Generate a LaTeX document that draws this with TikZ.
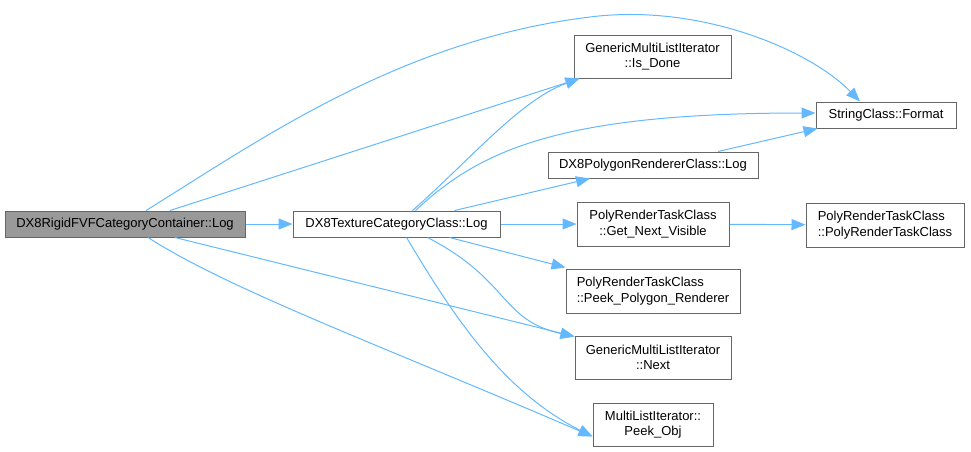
\documentclass[tikz,border=0pt]{standalone}
\usepackage{fontspec}
\setmainfont{Liberation Sans}
\usetikzlibrary{arrows.meta}
\definecolor{edgeblue}{HTML}{63B8FF}
\definecolor{frame}{HTML}{666666}
\definecolor{rootgrey}{HTML}{999999}
\begin{document}
\begin{tikzpicture}[
  x=1pt, y=-1pt,
  every node/.style={font=\fontsize{13}{15.5}\selectfont},
  fnode/.style={
    draw=frame, fill=white, line width=1pt, inner sep=2pt,
    minimum height=26pt, align=center,
  },
  rootnode/.style={fnode, fill=rootgrey},
  call/.style={-{Triangle[length=14pt,width=11pt]}, draw=edgeblue, line width=1pt},
]
  \useasboundingbox (0,0) rectangle (971,451);
  \node[rootnode, minimum width=240pt] (root) at (125,224) {DX8RigidFVFCategoryContainer::Log};
  \node[fnode, minimum width=207pt] (texlog) at (396.5,224) {DX8TextureCategoryClass::Log};
  \node[fnode, minimum width=157pt, minimum height=43pt] (isdone) at (652.5,56.5) {GenericMultiListIterator\\::Is\_Done};
  \node[fnode, minimum width=210pt] (polylog) at (653,165) {DX8PolygonRendererClass::Log};
  \node[fnode, minimum width=140pt] (strfmt) at (886,115) {StringClass::Format};
  \node[fnode, minimum width=152pt, minimum height=44pt] (nextvis) at (653,224) {PolyRenderTaskClass\\::Get\_Next\_Visible};
  \node[fnode, minimum width=158pt, minimum height=44pt, align=left] (taskctor) at (885,225) {PolyRenderTaskClass\\::PolyRenderTaskClass};
  \node[fnode, minimum width=174pt, minimum height=44pt, align=left] (peekrend) at (653,291) {PolyRenderTaskClass\\::Peek\_Polygon\_Renderer};
  \node[fnode, minimum width=156pt, minimum height=43pt] (nextit) at (653,357.5) {GenericMultiListIterator\\::Next};
  \node[fnode, minimum width=120pt, minimum height=43pt] (peekobj) at (653,424.5) {MultiListIterator::\\Peek\_Obj};

  % calls from the root
  \draw[call] ([xshift=21pt]root.north) .. controls (260,140) and (400,40) .. (590,17)
    .. controls (700,3) and (810,50) .. ([xshift=-26pt]strfmt.north);
  \draw[call] ([xshift=45pt]root.north) -- ([xshift=6pt]isdone.south west);
  \draw[call] (root) -- (texlog);
  \draw[call] ([xshift=50pt]root.south) -- ([yshift=-1pt]nextit.north west);
  \draw[call] ([xshift=23pt]root.south) .. controls (230,290) and (380,345) .. ([yshift=-12pt]peekobj.west);

  % calls from DX8TextureCategoryClass::Log
  \draw[call] ([xshift=16pt]texlog.north) .. controls (470,160) and (520,100) .. ([xshift=6pt]isdone.south west);
  \draw[call] ([xshift=19pt]texlog.north) .. controls (480,150) and (560,113) .. ([yshift=2pt]strfmt.west);
  \draw[call] ([xshift=58pt]texlog.north) -- ([xshift=-63pt]polylog.south);
  \draw[call] (texlog) -- (nextvis);
  \draw[call] ([xshift=53pt]texlog.south) -- ([yshift=1pt]peekrend.north west);
  \draw[call] ([xshift=31pt]texlog.south) .. controls (510,280) and (500,320) .. ([yshift=-1pt]nextit.north west);
  \draw[call] ([xshift=10pt]texlog.south) .. controls (450,310) and (500,390) .. ([yshift=-12pt]peekobj.west);

  % remaining calls
  \draw[call] ([xshift=65pt]polylog.north) -- ([xshift=2pt]strfmt.south west);
  \draw[call] (nextvis) -- (taskctor);
\end{tikzpicture}
\end{document}
